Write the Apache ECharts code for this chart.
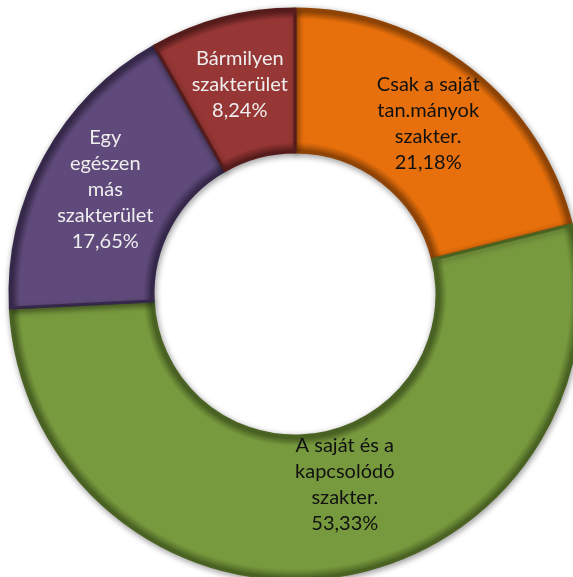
<!DOCTYPE html>
<html>
<head>
<meta charset="utf-8">
<script src="https://cdn.jsdelivr.net/npm/echarts@6/dist/echarts.min.js"></script>
<style>
  html, body { margin: 0; padding: 0; background: #fff; }
  #chart { width: 573px; height: 577px; }
</style>
</head>
<body>
<div id="chart"></div>
<script>
// categories, clockwise from 12 o'clock
const categories = [
  'Csak a saját\ntan.mányok\nszakter.',
  'A saját és a\nkapcsolódó\nszakter.',
  'Egy\negészen\nmás\nszakterület',
  'Bármilyen\nszakterület'
];
const shares = [21.18, 53.33, 17.65, 8.24];

const sliceColors = ['#E8700C', '#789A3E', '#604A7B', '#973735'];
const edgeColors = ['#8f4406', '#4a6323', '#35284a', '#561c1b'];
const textColors = ['#111', '#111', '#eeeeee', '#eeeeee'];
const labelOffsets = [[0, 0], [18, -24], [0, 0], [0, 0]];

const cx = 295, cy = 294, rIn = 142, rOut = 285;

// bevel look: darker rim at the inner and outer edge of the ring
function bevel(base, edge) {
  const a = rIn / rOut;
  return new echarts.graphic.RadialGradient(cx, cy, rOut, [
    { offset: a, color: edge },
    { offset: a + 0.035, color: base },
    { offset: 0.965, color: base },
    { offset: 1, color: edge }
  ], true);
}

const chart = echarts.init(document.getElementById('chart'));

const data = categories.map((name, i) => ({
  name: name,
  value: shares[i],
  itemStyle: {
    color: bevel(sliceColors[i], edgeColors[i]),
    borderColor: edgeColors[i],
    borderWidth: 3
  },
  label: {
    color: textColors[i],
    offset: labelOffsets[i]
  }
}));

const option = {
  backgroundColor: '#fff',
  animation: false,
  series: [
    {
      type: 'pie',
      center: [cx, cy],
      radius: [rIn, rOut],
      startAngle: 90,
      clockwise: true,
      avoidLabelOverlap: false,
      itemStyle: {
        shadowBlur: 6,
        shadowColor: 'rgba(0,0,0,0.35)',
        shadowOffsetX: 1,
        shadowOffsetY: 2
      },
      label: {
        show: true,
        position: 'inside',
        fontFamily: 'Lato',
        fontSize: 20,
        lineHeight: 26,
        align: 'center',
        formatter: p => p.name + '\n' + p.value.toFixed(2).replace('.', ',') + '%'
      },
      labelLine: { show: false },
      data: data
    }
  ]
};

chart.setOption(option);
</script>
</body>
</html>
